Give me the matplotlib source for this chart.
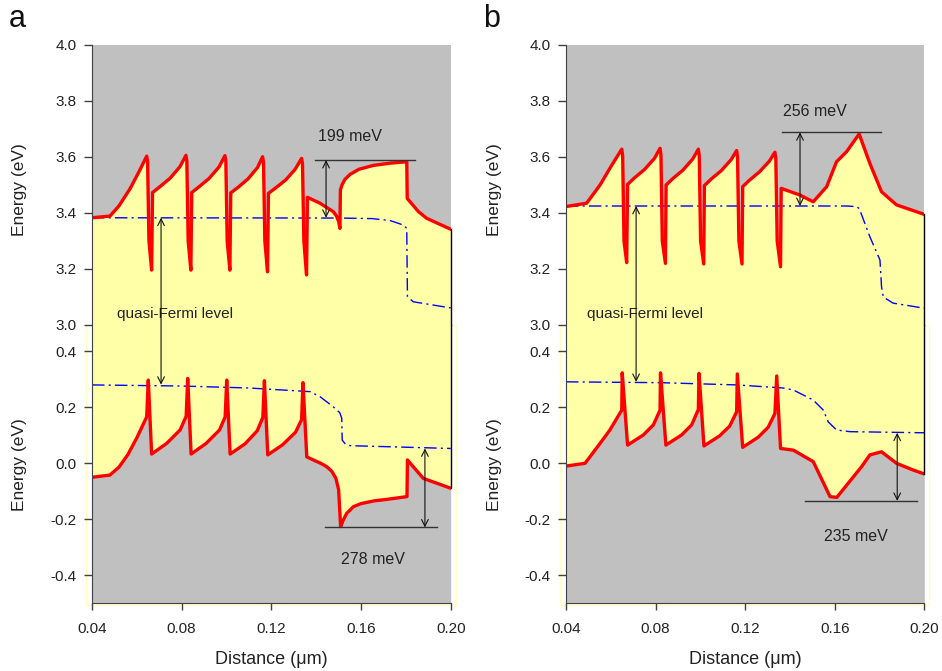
"""Band diagrams (conduction/valence band with quasi-Fermi levels) for two structures."""

import matplotlib

matplotlib.use("Agg")
import matplotlib.pyplot as plt
from matplotlib.patches import Rectangle

plt.rcParams["font.family"] = ["Liberation Sans", "DejaVu Sans"]
plt.rcParams["axes.unicode_minus"] = False

GRAY = "#c0c0c0"
YELLOW = "#ffffa8"
RED = "#ff0000"
BLUE = "#0000ff"
DARK = "#222222"

# ---- panel a -------------------------------------------------------------
A_CB_X = [0.0400, 0.0480, 0.0520, 0.0570, 0.0610,
          0.0644, 0.0648, 0.0654, 0.0666, 0.0670, 0.0703, 0.0748, 0.0792,
          0.0819, 0.0823, 0.0829, 0.0841, 0.0845, 0.0878, 0.0923, 0.0967,
          0.0993, 0.0997, 0.1003, 0.1015, 0.1019, 0.1052, 0.1096, 0.1138,
          0.1161, 0.1165, 0.1171, 0.1183, 0.1187, 0.1220, 0.1264, 0.1306,
          0.1335, 0.1339, 0.1345, 0.1357, 0.1361,
          0.1417, 0.1476, 0.1490, 0.1500, 0.1506, 0.1508, 0.1515, 0.1528,
          0.1551, 0.1590, 0.1655, 0.1730, 0.1804, 0.1806, 0.1856, 0.1893,
          0.2000]
A_CB_E = [3.383, 3.389, 3.425, 3.487, 3.548,
          3.603, 3.583, 3.300, 3.196, 3.473, 3.494, 3.524, 3.565,
          3.606, 3.586, 3.300, 3.196, 3.473, 3.494, 3.524, 3.565,
          3.605, 3.585, 3.300, 3.196, 3.472, 3.492, 3.522, 3.562,
          3.601, 3.581, 3.300, 3.190, 3.470, 3.490, 3.518, 3.556,
          3.595, 3.575, 3.300, 3.179, 3.456,
          3.435, 3.405, 3.390, 3.370, 3.345, 3.482, 3.500, 3.520,
          3.538, 3.556, 3.570, 3.578, 3.583, 3.452, 3.405, 3.381,
          3.342]

A_FN_X = [0.0400, 0.1500, 0.1650, 0.1730, 0.1789, 0.1804, 0.1807, 0.1833, 0.2000]
A_FN_E = [3.383, 3.382, 3.380, 3.373, 3.357, 3.345, 3.101, 3.083, 3.061]

A_VB_X = [0.0400, 0.0480, 0.0520, 0.0560, 0.0600,
          0.0644, 0.0651, 0.0666, 0.0733, 0.0793,
          0.0820, 0.0827, 0.0842, 0.0909, 0.0969,
          0.0994, 0.1001, 0.1016, 0.1082, 0.1137,
          0.1162, 0.1169, 0.1184, 0.1250, 0.1308,
          0.1335, 0.1341, 0.1358,
          0.1387, 0.1420, 0.1447, 0.1470, 0.1488, 0.1500, 0.1509, 0.1520,
          0.1536, 0.1566, 0.1600, 0.1660, 0.1714, 0.1805, 0.1807, 0.1878,
          0.2000]
A_VB_E = [-0.051, -0.043, -0.015, 0.030, 0.090,
          0.165, 0.296, 0.032, 0.070, 0.118,
          0.167, 0.302, 0.032, 0.070, 0.118,
          0.165, 0.296, 0.032, 0.068, 0.115,
          0.163, 0.294, 0.029, 0.065, 0.110,
          0.155, 0.287, 0.022,
          0.011, -0.001, -0.013, -0.030, -0.055, -0.095, -0.227, -0.205,
          -0.180, -0.156, -0.145, -0.135, -0.130, -0.120, 0.011, -0.055,
          -0.090]

A_FP_X = [0.0400, 0.0800, 0.1100, 0.1372, 0.1417, 0.1476, 0.1505, 0.1514,
          0.1516, 0.1530, 0.1551, 0.2000]
A_FP_E = [0.279, 0.275, 0.268, 0.255, 0.237, 0.201, 0.180, 0.160,
          0.082, 0.068, 0.062, 0.052]

# ---- panel b -------------------------------------------------------------
B_CB_X = [0.0400, 0.0492, 0.0552, 0.0600,
          0.0649, 0.0653, 0.0659, 0.0671, 0.0675, 0.0705, 0.0750, 0.0795,
          0.0820, 0.0824, 0.0830, 0.0844, 0.0847, 0.0877, 0.0922, 0.0966,
          0.0991, 0.0995, 0.1001, 0.1015, 0.1018, 0.1048, 0.1093, 0.1137,
          0.1162, 0.1166, 0.1172, 0.1186, 0.1189, 0.1219, 0.1264, 0.1308,
          0.1333, 0.1337, 0.1343, 0.1358, 0.1361,
          0.1445, 0.1504, 0.1564, 0.1608, 0.1653, 0.1709, 0.1757, 0.1809,
          0.1876, 0.2000]
B_CB_E = [3.423, 3.435, 3.500, 3.565,
          3.628, 3.605, 3.300, 3.223, 3.502, 3.525, 3.555, 3.595,
          3.631, 3.608, 3.300, 3.220, 3.500, 3.523, 3.553, 3.593,
          3.628, 3.605, 3.300, 3.218, 3.498, 3.521, 3.551, 3.590,
          3.623, 3.600, 3.300, 3.218, 3.494, 3.517, 3.547, 3.585,
          3.617, 3.595, 3.300, 3.208, 3.488,
          3.464, 3.440, 3.494, 3.583, 3.619, 3.682, 3.577, 3.476,
          3.429, 3.395]

B_FN_X = [0.0400, 0.1650, 0.1698, 0.1710, 0.1757, 0.1802, 0.1809, 0.1817, 0.1861, 0.2000]
B_FN_E = [3.425, 3.425, 3.423, 3.415, 3.315, 3.232, 3.137, 3.100, 3.078, 3.060]

B_VB_X = [0.0400, 0.0485, 0.0552, 0.0596,
          0.0649, 0.0651, 0.0675, 0.0745, 0.0790,
          0.0820, 0.0822, 0.0846, 0.0916, 0.0961,
          0.0991, 0.0994, 0.1016, 0.1086, 0.1131,
          0.1162, 0.1165, 0.1189, 0.1258, 0.1303,
          0.1333, 0.1341, 0.1358,
          0.1415, 0.1504, 0.1579, 0.1609, 0.1720, 0.1757, 0.1809, 0.1876,
          0.1950, 0.2000]
B_VB_E = [-0.011, -0.001, 0.070, 0.118,
          0.189, 0.322, 0.064, 0.100, 0.136,
          0.189, 0.322, 0.064, 0.100, 0.136,
          0.191, 0.320, 0.061, 0.097, 0.132,
          0.183, 0.318, 0.056, 0.092, 0.128,
          0.177, 0.311, 0.052,
          0.046, 0.005, -0.120, -0.123, -0.013, 0.029, 0.040, -0.001,
          -0.025, -0.039]

B_FP_X = [0.0400, 0.0820, 0.1162, 0.1370, 0.1415, 0.1504, 0.1549, 0.1571,
          0.1608, 0.1668, 0.2000]
B_FP_E = [0.290, 0.287, 0.279, 0.268, 0.261, 0.225, 0.189, 0.147,
          0.118, 0.112, 0.108]

# barrier annotations: (label, bracket level, fermi level, arrow x, line x0, x1, text x, text y)
A_CB_GAP = ("199 meV", 3.589, 3.383, 0.1444, 0.1395, 0.1841, 0.1551, 3.672)
A_VB_GAP = ("278 meV", -0.230, 0.052, 0.1885, 0.1439, 0.1940, 0.1652, -0.346)
B_CB_GAP = ("256 meV", 3.688, 3.425, 0.1445, 0.1363, 0.1805, 0.1512, 3.762)
B_VB_GAP = ("235 meV", -0.135, 0.108, 0.1879, 0.1467, 0.1968, 0.1695, -0.263)
A_QF = (0.0708, 3.383, 0.280, 0.0512)
B_QF = (0.0713, 3.425, 0.290, 0.0494)

X_TICKS = [0.04, 0.08, 0.12, 0.16, 0.20]
TOP_TICKS = [3.0, 3.2, 3.4, 3.6, 3.8, 4.0]
BOT_TICKS = [-0.4, -0.2, 0.0, 0.2, 0.4]

W, H = 942, 671


def style_axis(ax):
    for side in ("top", "right", "bottom"):
        ax.spines[side].set_visible(False)
    ax.spines["left"].set_color("#404040")
    ax.tick_params(axis="y", direction="out", length=6, width=1, color="#404040",
                   labelsize=11, labelcolor=DARK, pad=5)
    ax.set_xlim(0.04, 0.20)


def gap_marker(ax, gap):
    label, level, fermi, ax_x, x0, x1, tx, ty = gap
    ax.plot([x0, x1], [level, level], color="#333333", lw=1.0, zorder=5)
    ax.annotate("", xy=(ax_x, level), xytext=(ax_x, fermi),
                arrowprops=dict(arrowstyle="<->", color="#111111", lw=0.8,
                                mutation_scale=12, shrinkA=0, shrinkB=0), zorder=6)
    ax.text(tx, ty, label, ha="center", va="center", fontsize=11.5, color=DARK)


def draw_panel(fig, left_px, right_px, tag, cb, fn, vb, fp, cb_gap, vb_gap, qf):
    left = left_px / W
    width = (right_px - left_px) / W
    ax_top = fig.add_axes([left, 1 - 325 / H, width, 280 / H])
    ax_bot = fig.add_axes([left, 1 - 603 / H, width, 278 / H])

    # conduction band part
    style_axis(ax_top)
    ax_top.set_facecolor(GRAY)
    ax_top.set_ylim(3.0, 4.0)
    ax_top.set_yticks(TOP_TICKS)
    ax_top.set_yticklabels([f"{v:.1f}" for v in TOP_TICKS])
    ax_top.set_xticks([])
    ax_top.fill_between(cb[0], cb[1], 2.9, color=YELLOW, lw=0)
    ax_top.plot(fn[0], fn[1], color=BLUE, lw=1.0, ls=(0, (9, 3, 1.5, 3)))
    ax_top.plot(cb[0], cb[1], color=RED, lw=2.4, solid_joinstyle="round")
    ax_top.plot([0.2, 0.2], [cb[1][-1], 3.0], color="k", lw=1, clip_on=False)

    # valence band part
    style_axis(ax_bot)
    ax_bot.spines["bottom"].set_visible(True)
    ax_bot.spines["bottom"].set_color("#404040")
    ax_bot.set_facecolor(YELLOW)
    ax_bot.set_ylim(-0.5, 0.493)
    ax_bot.set_yticks(BOT_TICKS)
    ax_bot.set_yticklabels([f"{v:.1f}" for v in BOT_TICKS])
    ax_bot.set_xticks(X_TICKS)
    ax_bot.set_xticklabels([f"{v:.2f}" for v in X_TICKS])
    ax_bot.tick_params(axis="x", direction="out", length=5, width=1, color="#404040",
                       labelsize=11, labelcolor=DARK, pad=8.5)
    ax_bot.fill_between(vb[0], vb[1], -0.6, color=GRAY, lw=0)
    ax_bot.plot(fp[0], fp[1], color=BLUE, lw=1.0, ls=(0, (9, 3, 1.5, 3)))
    ax_bot.plot(vb[0], vb[1], color=RED, lw=2.4, solid_joinstyle="round")
    ax_bot.plot([0.2, 0.2], [0.493, vb[1][-1]], color="k", lw=1, clip_on=False)

    gap_marker(ax_top, cb_gap)
    gap_marker(ax_bot, vb_gap)

    # arrow spanning both halves between the quasi-Fermi levels
    qx, q_top, q_bot, q_tx = qf
    ax_bot.annotate("", xy=(qx, q_bot), xycoords=ax_bot.transData,
                    xytext=(qx, q_top), textcoords=ax_top.transData,
                    arrowprops=dict(arrowstyle="<->", color="#111111", lw=0.8,
                                    mutation_scale=12, shrinkA=0, shrinkB=0),
                    annotation_clip=False, zorder=6)
    ax_top.text(q_tx, 3.040, "quasi-Fermi level", ha="left", va="center",
                fontsize=11, color=DARK)

    # faint outline around the lower half, as in the original export
    fig.add_artist(Rectangle(((left_px - 6) / W, 1 - 605 / H), (right_px - left_px + 11) / W,
                             280 / H, transform=fig.transFigure, fill=False,
                             edgecolor="#ffffc0", lw=1, zorder=-1))

    cx = (left_px + right_px) / 2 / W
    fig.text(cx, 1 - 659 / H, "Distance (\u03bcm)", ha="center", va="center",
             fontsize=13, color=DARK)
    fig.text((left_px - 72) / W, 1 - 190 / H, "Energy (eV)", rotation=90,
             ha="center", va="center", fontsize=12.5, color=DARK)
    fig.text((left_px - 72) / W, 1 - 465 / H, "Energy (eV)", rotation=90,
             ha="center", va="center", fontsize=12.5, color=DARK)
    fig.text((left_px - 83) / W, 1 - 27 / H, tag, ha="left", va="baseline",
             fontsize=22, color="#111111")


def main():
    fig = plt.figure(figsize=(W / 100, H / 100), dpi=100)
    draw_panel(fig, 92, 450.7, "a", (A_CB_X, A_CB_E), (A_FN_X, A_FN_E),
               (A_VB_X, A_VB_E), (A_FP_X, A_FP_E), A_CB_GAP, A_VB_GAP, A_QF)
    draw_panel(fig, 566, 924.3, "b", (B_CB_X, B_CB_E), (B_FN_X, B_FN_E),
               (B_VB_X, B_VB_E), (B_FP_X, B_FP_E), B_CB_GAP, B_VB_GAP, B_QF)
    fig.savefig("out.png", dpi=100)
    plt.close(fig)


if __name__ == "__main__":
    main()
